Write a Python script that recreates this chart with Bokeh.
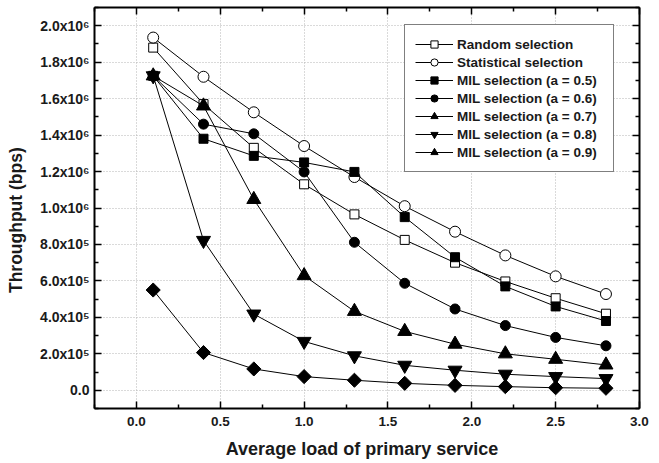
import numpy as np
from bokeh.plotting import figure
from bokeh.models import (LinearAxis, FixedTicker, Range1d, Legend, LegendItem,
                          CustomJSTickFormatter)
from bokeh.embed import file_html
from bokeh.resources import INLINE

# ---------------- data ----------------
load = [0.1, 0.4, 0.7, 1.0, 1.3, 1.6, 1.9, 2.2, 2.5, 2.8]
random_sel = [1.88e6, 1.57e6, 1.33e6, 1.13e6, 0.965e6, 0.825e6, 0.70e6, 0.597e6, 0.505e6, 0.42e6]
statistical_sel = [1.935e6, 1.72e6, 1.525e6, 1.34e6, 1.17e6, 1.01e6, 0.87e6, 0.74e6, 0.625e6, 0.528e6]
mil_05 = [1.725e6, 1.38e6, 1.286e6, 1.25e6, 1.198e6, 0.95e6, 0.73e6, 0.57e6, 0.46e6, 0.38e6]
mil_06 = [1.725e6, 1.46e6, 1.407e6, 1.198e6, 0.812e6, 0.587e6, 0.446e6, 0.355e6, 0.29e6, 0.244e6]
mil_07 = [1.725e6, 1.56e6, 1.047e6, 0.629e6, 0.433e6, 0.323e6, 0.253e6, 0.2e6, 0.17e6, 0.139e6]
mil_08 = [1.725e6, 0.822e6, 0.418e6, 0.268e6, 0.189e6, 0.137e6, 0.11e6, 0.088e6, 0.075e6, 0.064e6]
mil_09 = [0.55e6, 0.207e6, 0.117e6, 0.075e6, 0.055e6, 0.038e6, 0.027e6, 0.02e6, 0.014e6, 0.011e6]

series_labels = ["Random selection", "Statistical selection",
                 "MIL selection (a = 0.5)", "MIL selection (a = 0.6)",
                 "MIL selection (a = 0.7)", "MIL selection (a = 0.8)",
                 "MIL selection (a = 0.9)"]

x_ticks = [0.0, 0.5, 1.0, 1.5, 2.0, 2.5, 3.0]
x_minor = [-0.25, 0.25, 0.75, 1.25, 1.75, 2.25, 2.75]
x_tick_labels = ["0.0", "0.5", "1.0", "1.5", "2.0", "2.5", "3.0"]
y_ticks = [0, 2e5, 4e5, 6e5, 8e5, 1.0e6, 1.2e6, 1.4e6, 1.6e6, 1.8e6, 2.0e6]
y_minor = [-1e5, 1e5, 3e5, 5e5, 7e5, 9e5, 1.1e6, 1.3e6, 1.5e6, 1.7e6, 1.9e6, 2.1e6]
y_tick_labels = ["0.0", "2.0x10\u2075", "4.0x10\u2075", "6.0x10\u2075", "8.0x10\u2075",
                 "1.0x10\u2076", "1.2x10\u2076", "1.4x10\u2076", "1.6x10\u2076",
                 "1.8x10\u2076", "2.0x10\u2076"]

FONT = "Liberation Sans"
NB = "\u00a0"

p = figure(width=659, height=463, output_backend="svg", toolbar_location=None,
           x_range=Range1d(-0.25, 3.0), y_range=Range1d(-1e5, 2.1e6),
           min_border_left=94, min_border_right=20, min_border_top=7,
           min_border_bottom=55, background_fill_color="white",
           border_fill_color="white")
p.outline_line_color = None

xticker = FixedTicker(ticks=x_ticks, minor_ticks=x_minor)
yticker = FixedTicker(ticks=y_ticks, minor_ticks=y_minor)

xfmt = CustomJSTickFormatter(args=dict(tvals=x_ticks, tlabels=x_tick_labels), code="""
const i = tvals.findIndex(t => Math.abs(t - tick) < 1e-6);
return i >= 0 ? tlabels[i] : "";
""")
yfmt = CustomJSTickFormatter(args=dict(tvals=y_ticks, tlabels=y_tick_labels), code="""
const i = tvals.findIndex(t => Math.abs(t - tick) < 1);
return i >= 0 ? tlabels[i] : "";
""")

def style_axis(ax, labels=True, size="13px"):
    ax.axis_line_width = 2
    ax.axis_line_color = "black"
    ax.major_tick_in = 7
    ax.major_tick_out = 0
    ax.minor_tick_in = 4
    ax.minor_tick_out = 0
    ax.major_tick_line_width = 1.5
    ax.minor_tick_line_width = 1.5
    ax.major_tick_line_color = "black"
    ax.minor_tick_line_color = "black"
    if labels:
        ax.major_label_text_font = FONT
        ax.major_label_text_font_style = "bold"
        ax.major_label_text_font_size = size
        ax.major_label_text_color = "#1a1a1a"
    else:
        ax.formatter = CustomJSTickFormatter(code="return '';")
        ax.major_label_standoff = 0

xa = p.xaxis[0]
xa.ticker = xticker
xa.formatter = xfmt
style_axis(xa, size="13.5px")
xa.major_label_standoff = 8
xa.axis_label = "Average load of primary service" + NB * 2
xa.axis_label_text_font = FONT
xa.axis_label_text_font_style = "bold"
xa.axis_label_text_font_size = "18px"
xa.axis_label_text_color = "#1a1a1a"
xa.axis_label_standoff = 10

ya = p.yaxis[0]
ya.ticker = yticker
ya.formatter = yfmt
style_axis(ya, size="14px")
ya.major_label_standoff = 5
ya.axis_label = "Throughput (bps)" + NB * 5
ya.axis_label_text_font = FONT
ya.axis_label_text_font_style = "bold"
ya.axis_label_text_font_size = "17.5px"
ya.axis_label_text_color = "#1a1a1a"
ya.axis_label_standoff = 11

top = LinearAxis(ticker=xticker)
style_axis(top, labels=False)
p.add_layout(top, "above")
right = LinearAxis(ticker=yticker)
style_axis(right, labels=False)
p.add_layout(right, "right")

p.xgrid.ticker = xticker
p.ygrid.ticker = yticker
for g in (p.xgrid[0], p.ygrid[0]):
    g.grid_line_color = "#b4b4b4"
    g.grid_line_dash = "1 2"
    g.grid_line_width = 1

series = [
    (random_sel, dict(marker="square", size=9, fill_color="white")),
    (statistical_sel, dict(marker="circle", size=11, fill_color="white")),
    (mil_05, dict(marker="square", size=9, fill_color="black")),
    (mil_06, dict(marker="circle", size=10, fill_color="black")),
    (mil_07, dict(marker="triangle", size=14, fill_color="black")),
    (mil_08, dict(marker="inverted_triangle", size=14, fill_color="black")),
    (mil_09, dict(marker="square", size=10, fill_color="black", angle=np.pi / 4)),
]

renderers = []
for ys, kw in series:
    lr = p.line(load, ys, line_color="black", line_width=1)
    mr = p.scatter(load, ys, line_color="black", line_width=1, **kw)
    renderers.append((lr, mr))

items = []
for i, lab in enumerate(series_labels):
    lr, mr = renderers[i]
    if i == 6:
        mr = renderers[4][1]  # reference legend shows an up-triangle for a = 0.9
    items.append(LegendItem(label=lab, renderers=[lr, mr]))

legend = Legend(items=items, location=(310, 236))
legend.label_text_font = FONT
legend.label_text_font_style = "bold"
legend.label_text_font_size = "13.5px"
legend.label_text_color = "#1a1a1a"
legend.glyph_width = 38
legend.glyph_height = 18
legend.label_height = 18
legend.label_width = 146
legend.label_standoff = 4
legend.spacing = 0
legend.padding = 10
legend.margin = 0
legend.border_line_color = "black"
legend.border_line_width = 1
legend.background_fill_alpha = 1
p.add_layout(legend)

open("out.html", "w").write(file_html(p, INLINE))
